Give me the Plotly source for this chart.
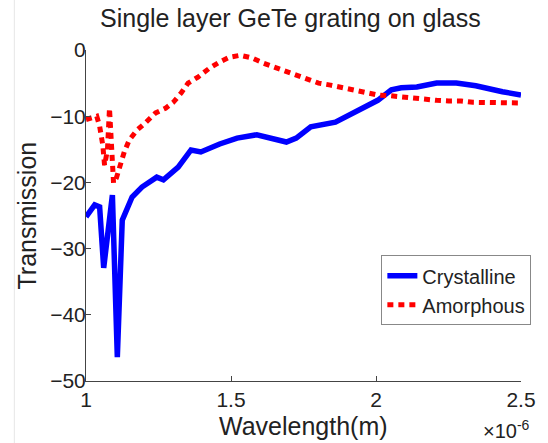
import plotly.graph_objects as go

# Wavelength in units of 1e-6 m, transmission in dB
wl_crystalline = [1.000, 1.030, 1.047, 1.061, 1.091, 1.108, 1.125, 1.159, 1.193, 1.244,
                  1.267, 1.318, 1.362, 1.396, 1.461, 1.521, 1.589, 1.623, 1.691, 1.725,
                  1.775, 1.860, 1.938, 2.006, 2.053, 2.087, 2.141, 2.209, 2.277, 2.344,
                  2.436, 2.500]
t_crystalline = [-25.2, -23.4, -23.7, -32.9, -21.9, -46.4, -25.7, -22.2, -20.7, -19.2,
                 -19.6, -17.7, -15.1, -15.4, -14.2, -13.3, -12.8, -13.1, -13.9, -13.3,
                 -11.6, -10.9, -9.1, -7.6, -6.0, -5.7, -5.6, -5.0, -5.0, -5.4,
                 -6.3, -6.8]

wl_amorphous = [1.000, 1.037, 1.047, 1.058, 1.064, 1.074, 1.081, 1.088, 1.095, 1.105,
                1.118, 1.132, 1.149, 1.176, 1.207, 1.240, 1.274, 1.301, 1.328, 1.352,
                1.386, 1.427, 1.461, 1.494, 1.532, 1.572, 1.613, 1.650, 1.691, 1.725,
                1.765, 1.802, 1.843, 1.884, 1.921, 1.962, 2.006, 2.046, 2.087, 2.124,
                2.172, 2.209, 2.250, 2.294, 2.334, 2.375, 2.412, 2.459, 2.500]
t_amorphous = [-10.5, -10.0, -11.5, -14.4, -17.4, -15.1, -8.8, -15.1, -20.1, -19.3,
               -17.4, -15.4, -13.6, -12.1, -10.9, -9.5, -8.8, -7.9, -6.5, -5.0,
               -4.1, -2.7, -1.8, -1.1, -0.8, -1.2, -2.0, -2.6, -3.3, -3.9,
               -4.4, -5.0, -5.3, -5.7, -5.9, -6.3, -6.8, -6.9, -7.1, -7.3,
               -7.4, -7.6, -7.7, -7.7, -7.9, -7.9, -8.0, -8.0, -8.0]

x_ticks = [1, 1.5, 2, 2.5]
x_tick_text = ["1", "1.5", "2", "2.5"]
y_ticks = [0, -10, -20, -30, -40, -50]

FONT = "Liberation Sans, Arial, Helvetica, sans-serif"
INK = "#222222"

fig = go.Figure()
fig.add_trace(go.Scatter(x=wl_crystalline, y=t_crystalline, mode="lines",
                         name="Crystalline",
                         line=dict(color="#0000ff", width=5.5)))
fig.add_trace(go.Scatter(x=wl_amorphous, y=t_amorphous, mode="lines",
                         name="Amorphous",
                         line=dict(color="#ff0000", width=5, dash="6px,5px")))

fig.update_layout(
    width=548, height=443,
    margin=dict(l=86, r=19, t=50, b=62),
    paper_bgcolor="white", plot_bgcolor="white",
    font=dict(family=FONT, color=INK),
    showlegend=True,
    legend=dict(x=0.679, y=0.38, xanchor="left", yanchor="top",
                bgcolor="white", bordercolor="#888888", borderwidth=1,
                font=dict(size=20, color=INK), itemwidth=30,
                tracegroupgap=0),
    annotations=[
        dict(text="Single layer GeTe grating on glass", xref="paper", yref="paper",
             x=0.47, y=1.0, yshift=32, xanchor="center", yanchor="middle",
             showarrow=False, font=dict(size=25, color=INK)),
        dict(text="Transmission", xref="paper", yref="paper", x=0, xshift=-60,
             y=0.5, textangle=-90, xanchor="center", yanchor="middle",
             showarrow=False, font=dict(size=25, color=INK)),
        dict(text="Wavelength(m)", xref="paper", yref="paper", x=0.5, y=0,
             yshift=-45, xanchor="center", yanchor="middle",
             showarrow=False, font=dict(size=25, color=INK)),
        dict(text="×10<sup>-6</sup>", xref="paper", yref="paper", x=1.0, y=0,
             xshift=-15, yshift=-48, xanchor="center", yanchor="middle",
             showarrow=False, font=dict(size=20, color=INK)),
    ],
    shapes=[
        dict(type="line", xref="paper", yref="paper", x0=-73 / 443, x1=-73 / 443,
             y0=-62 / 331, y1=1 + 50 / 331, line=dict(color="#e6e6e6", width=1)),
    ],
)

fig.update_xaxes(range=[1, 2.5], tickvals=x_ticks, ticktext=x_tick_text,
                 ticks="inside", ticklen=5, tickcolor="#444444",
                 showline=True, linecolor="#444444", linewidth=1,
                 showgrid=False, zeroline=False, mirror=False,
                 tickfont=dict(size=21, color=INK))
fig.update_yaxes(range=[-50, 0], tickvals=y_ticks,
                 ticks="inside", ticklen=5, tickcolor="#444444",
                 showline=True, linecolor="#444444", linewidth=1,
                 showgrid=False, zeroline=False, mirror=False,
                 ticklabelstandoff=-5,
                 tickfont=dict(size=21, color=INK))

fig.write_html("out.html")
